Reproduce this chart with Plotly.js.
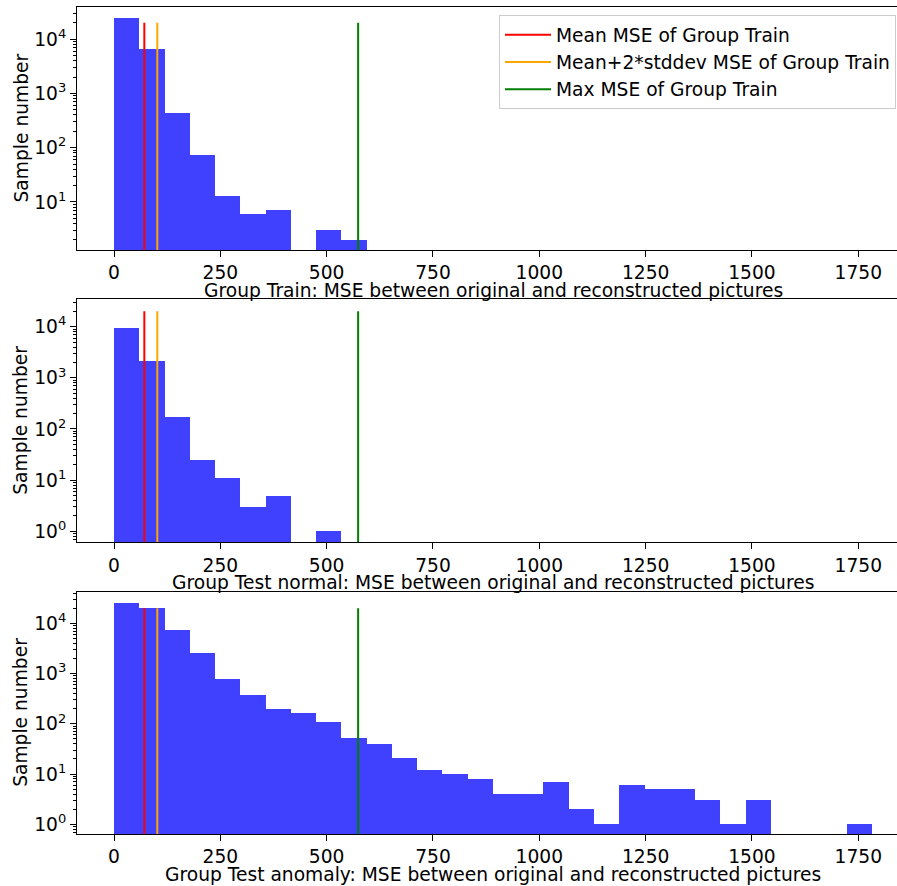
<!DOCTYPE html>
<html>
<head>
<meta charset="utf-8">
<script src="https://cdn.plot.ly/plotly-3.0.1.min.js"></script>
<style>html,body{margin:0;padding:0;overflow:hidden;background:#fff}</style>
</head>
<body>
<div id="chart" style="width:897px;height:886px"></div>
<script>
// Histogram bins (30 equal bins from 0 to 1782)
const binStart = 0;
const binWidth = 59.4;
const countsTrain = [24000, 6500, 427, 73, 13, 6, 7, 0, 3, 2, 0, 0, 0, 0, 0, 0, 0, 0, 0, 0, 0, 0, 0, 0, 0, 0, 0, 0, 0, 0];
const countsTestNormal = [9300, 2180, 169, 25, 11, 3, 5, 0, 1, 0, 0, 0, 0, 0, 0, 0, 0, 0, 0, 0, 0, 0, 0, 0, 0, 0, 0, 0, 0, 0];
const countsTestAnomaly = [25700, 20200, 7350, 2530, 795, 378, 199, 166, 111, 53, 40, 21, 12, 10, 8, 4, 4, 7, 2, 1, 6, 5, 5, 3, 1, 3, 0, 0, 0, 1];
const meanMSE = 71.3;
const mean2StdMSE = 101.8;
const maxMSE = 574;
const lineTop = 20000;
const lineNames = ["Mean MSE of Group Train", "Mean+2*stddev MSE of Group Train", "Max MSE of Group Train"];
const lineValues = [meanMSE, mean2StdMSE, maxMSE];
const lineColors = ["#ff0000", "#ffa500", "#008000"];
const xTitles = [
  "Group Train: MSE between original and reconstructed pictures",
  "Group Test normal: MSE between original and reconstructed pictures",
  "Group Test anomaly: MSE between original and reconstructed pictures"
];
const yTitle = "Sample number";
const xTickVals = [0, 250, 500, 750, 1000, 1250, 1500, 1750];

const H = 886;
const FS = 18.67;
const panels = [
  {counts: countsTrain, top: 7, bottom: 250, yr: [0.116, 4.59]},
  {counts: countsTestNormal, top: 299.3, bottom: 542.3, yr: [-0.215, 4.535]},
  {counts: countsTestAnomaly, top: 591.7, bottom: 834, yr: [-0.193, 4.629]}
];

const centers = countsTrain.map((_, i) => binStart + binWidth * (i + 0.5));
const font = "DejaVu Sans, sans-serif";
const traces = [];
const layout = {
  width: 897, height: 886,
  margin: {l: 0, r: 0, t: 0, b: 0},
  paper_bgcolor: "#fff", plot_bgcolor: "#fff",
  font: {family: font, size: FS, color: "#000"},
  showlegend: true,
  bargap: 0,
  legend: {
    x: 499 / 897, y: 1 - 15 / H, xanchor: "left", yanchor: "top",
    bgcolor: "rgba(255,255,255,0.8)", bordercolor: "#cccccc", borderwidth: 1,
    font: {family: font, size: FS, color: "#000"},
    tracegroupgap: 0, itemwidth: 46
  },
  annotations: []
};

const majorY = [0, 1, 2, 3, 4].map(k => Math.pow(10, k));
const majorYText = ["10<sup>0</sup>", "10<sup>1</sup>", "10<sup>2</sup>", "10<sup>3</sup>", "10<sup>4</sup>"];
const minorY = [];
for (let k = -1; k <= 4; k++) for (let m = 2; m <= 9; m++) minorY.push(m * Math.pow(10, k));

panels.forEach((p, idx) => {
  const n = idx + 1;
  const xa = n === 1 ? "x" : "x" + n;
  const ya = n === 1 ? "y" : "y" + n;
  traces.push({
    type: "bar", x: centers, y: p.counts.map(v => v > 0 ? v : null),
    width: binWidth, xaxis: xa, yaxis: ya, showlegend: false,
    marker: {color: "rgba(0,0,255,0.75)", line: {width: 0}},
    hoverinfo: "x+y"
  });
  lineValues.forEach((v, j) => {
    traces.push({
      type: "scatter", mode: "lines", x: [v, v], y: [0.01, lineTop],
      xaxis: xa, yaxis: ya, name: lineNames[j], legendgroup: lineNames[j],
      showlegend: idx === 0, line: {color: lineColors[j], width: 2}
    });
  });
  const dom = [1 - p.bottom / H, 1 - p.top / H];
  layout["xaxis" + (n === 1 ? "" : n)] = {
    domain: [77 / 897, 1], range: [-87, 1841], anchor: ya,
    showline: true, mirror: true, linecolor: "#000", linewidth: 1,
    ticks: "outside", ticklen: 6, tickwidth: 1, tickcolor: "#000",
    tickmode: "array", tickvals: xTickVals, showgrid: false, zeroline: false,
    tickfont: {family: font, size: FS, color: "#000"}
  };
  layout["yaxis" + (n === 1 ? "" : n)] = {
    domain: dom, type: "log", range: p.yr, anchor: xa,
    showline: true, mirror: false, linecolor: "#000", linewidth: 1,
    ticks: "outside", ticklen: 6, tickwidth: 1, tickcolor: "#000",
    tickmode: "array", tickvals: majorY, ticktext: majorYText,
    showgrid: false, zeroline: false,
    tickfont: {family: font, size: FS, color: "#000"},
    minor: {tickmode: "array", tickvals: minorY, ticks: "outside", ticklen: 3, tickcolor: "#000", showgrid: false}
  };
  layout.annotations.push({
    text: xTitles[idx], xref: "paper", yref: "paper",
    x: 493 / 897, y: 1 - (p.bottom + 40) / H,
    xanchor: "center", yanchor: "middle", showarrow: false, borderpad: 0,
    font: {family: font, size: FS, color: "#000"}
  });
  layout.annotations.push({
    text: yTitle, xref: "paper", yref: "paper", textangle: -90,
    x: 21 / 897, y: 1 - (p.top + p.bottom) / 2 / H,
    xanchor: "center", yanchor: "middle", showarrow: false, borderpad: 0,
    font: {family: font, size: FS, color: "#000"}
  });
});

Plotly.newPlot("chart", traces, layout, {displayModeBar: false, staticPlot: true});
</script>
</body>
</html>
